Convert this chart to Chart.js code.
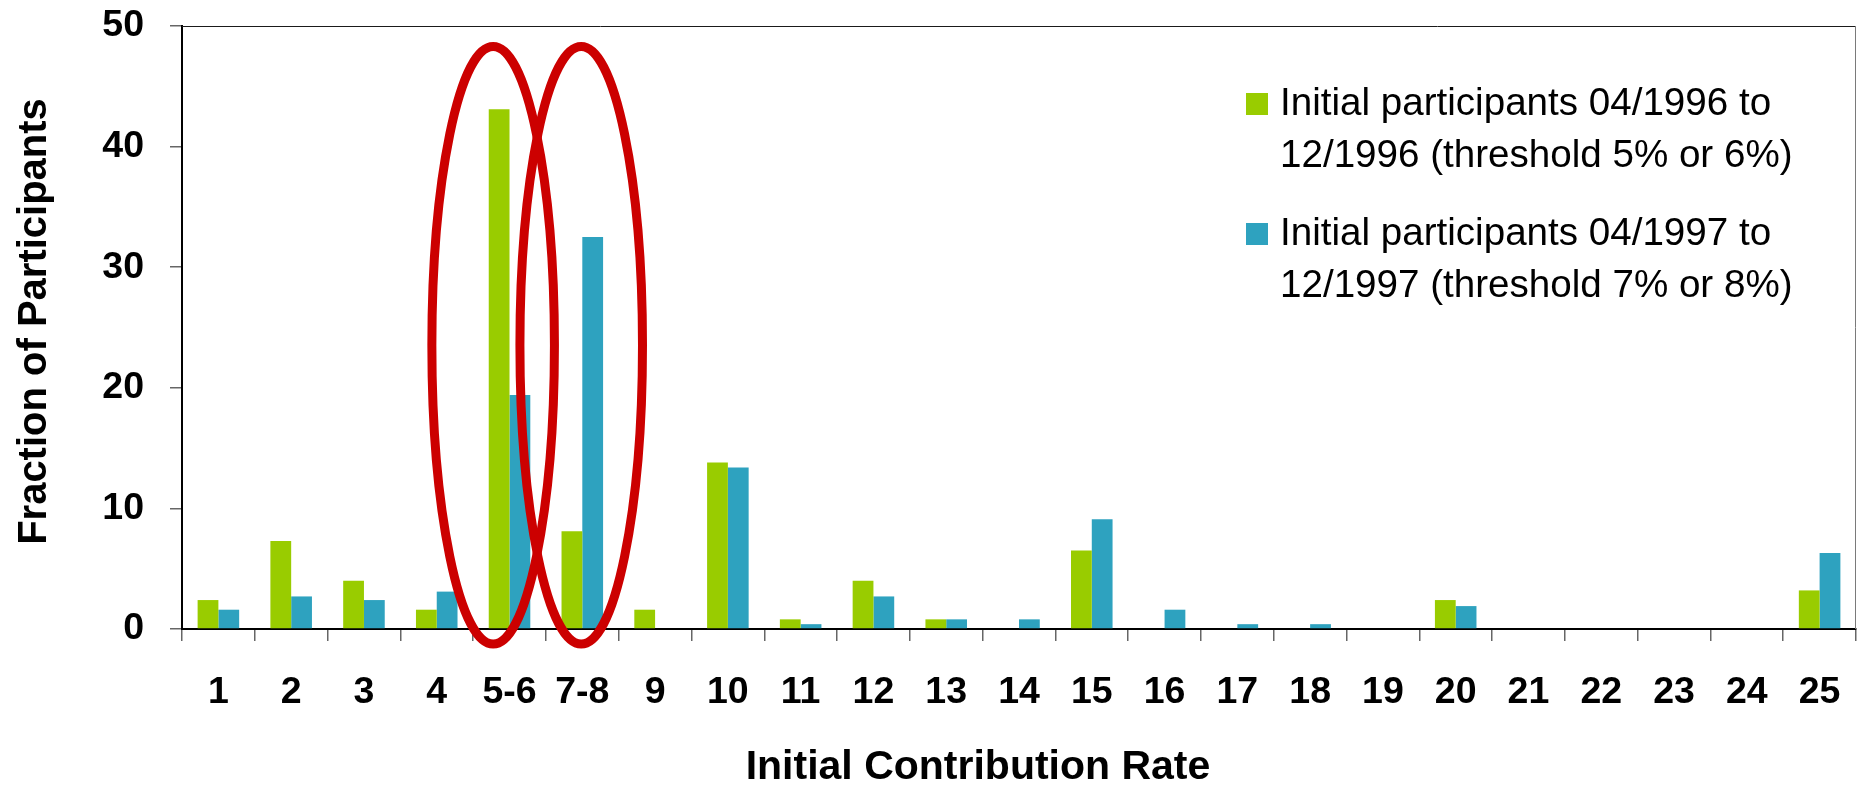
<!DOCTYPE html>
<html>
<head>
<meta charset="utf-8">
<script src="https://cdn.jsdelivr.net/npm/chart.js@4.4.1/dist/chart.umd.min.js"></script>
<style>
  html, body { margin: 0; padding: 0; background: #ffffff; }
  #wrap { width: 1862px; height: 785px; position: relative; }
</style>
</head>
<body>
<div id="wrap"><canvas id="chart" width="1862" height="785"></canvas></div>
<script>
// Initial contribution rate buckets (percent of pay)
const categories = ['1','2','3','4','5-6','7-8','9','10','11','12','13','14','15','16','17','18','19','20','21','22','23','24','25'];

// Share of new participants choosing each rate (%)
const cohort1996 = [2.4, 7.3, 4.0, 1.6, 43.1, 8.1, 1.6, 13.8, 0.8, 4.0, 0.8, 0, 6.5, 0, 0, 0, 0, 2.4, 0, 0, 0, 0, 3.2];
const cohort1997 = [1.6, 2.7, 2.4, 3.1, 19.4, 32.5, 0, 13.4, 0.4, 2.7, 0.8, 0.8, 9.1, 1.6, 0.4, 0.4, 0, 1.9, 0, 0, 0, 0, 6.3];

const seriesLabels = [
  ['Initial participants 04/1996 to', '12/1996 (threshold 5% or 6%)'],
  ['Initial participants 04/1997 to', '12/1997 (threshold 7% or 8%)']
];
const seriesColors = ['#99CC00', '#2EA2BF'];

const yTicks = [0, 10, 20, 30, 40, 50];
const xTitle = 'Initial Contribution Rate';
const yTitle = 'Fraction of Participants';

// Match thresholds circled on the chart
const highlighted = ['5-6', '7-8'];

const FONT = "'Liberation Sans', Arial, sans-serif";

// Rings around the match-threshold buckets, placed through the chart scales
const ringPlugin = {
  id: 'thresholdRings',
  afterDraw(chart, args, opts) {
    const { ctx, scales: { x, y } } = chart;
    const step = x.getPixelForValue(1) - x.getPixelForValue(0);
    ctx.save();
    ctx.strokeStyle = opts.color;
    ctx.lineWidth = opts.lineWidth;
    highlighted.forEach((label, i) => {
      const idx = categories.indexOf(label);
      const cx = x.getPixelForValue(idx) + opts.shift[i] * step;
      const top = y.getPixelForValue(opts.top);
      const bottom = y.getPixelForValue(opts.bottom);
      ctx.beginPath();
      ctx.ellipse(cx, (top + bottom) / 2, opts.halfWidth * step, (bottom - top) / 2, 0, 0, Math.PI * 2);
      ctx.stroke();
    });
    ctx.restore();
  }
};

// Frame, axis titles and the two-line legend
const decorPlugin = {
  id: 'decor',
  beforeDatasetsDraw(chart) {
    const { ctx, chartArea: a } = chart;
    ctx.save();
    ctx.lineWidth = 1;
    ctx.strokeStyle = '#1a1a1a';
    ctx.beginPath();
    ctx.moveTo(a.left, a.top + 0.5);
    ctx.lineTo(a.right, a.top + 0.5);
    ctx.stroke();
    ctx.strokeStyle = '#7a7a7a';
    ctx.beginPath();
    ctx.moveTo(a.right - 0.5, a.top);
    ctx.lineTo(a.right - 0.5, a.bottom);
    ctx.stroke();
    ctx.restore();
  },
  afterDraw(chart) {
    const { ctx, chartArea: a } = chart;
    ctx.save();
    ctx.fillStyle = '#000000';
    ctx.font = `bold 41px ${FONT}`;
    ctx.textAlign = 'center';
    ctx.textBaseline = 'alphabetic';
    ctx.fillText(xTitle, (a.left + a.right) / 2 - 41, 779);

    ctx.save();
    ctx.font = `bold 40px ${FONT}`;
    ctx.translate(46, (a.top + a.bottom) / 2 - 6);
    ctx.rotate(-Math.PI / 2);
    ctx.fillText(yTitle, 0, 0);
    ctx.restore();

    // legend
    ctx.font = `38.6px ${FONT}`;
    ctx.textAlign = 'left';
    const baseX = 1280, firstBase = 115, lineGap = 51.7, itemGap = 130;
    seriesLabels.forEach((lines, i) => {
      const b = firstBase + i * itemGap;
      ctx.fillStyle = seriesColors[i];
      ctx.fillRect(1246, b - 22, 22, 22);
      ctx.fillStyle = '#000000';
      lines.forEach((t, j) => ctx.fillText(t, baseX, b + j * lineGap));
    });
    ctx.restore();
  }
};

new Chart(document.getElementById('chart'), {
  type: 'bar',
  data: {
    labels: categories,
    datasets: [
      { label: seriesLabels[0].join(' '), data: cohort1996, backgroundColor: seriesColors[0], borderWidth: 0 },
      { label: seriesLabels[1].join(' '), data: cohort1997, backgroundColor: seriesColors[1], borderWidth: 0 }
    ]
  },
  options: {
    responsive: false,
    animation: false,
    devicePixelRatio: 1,
    categoryPercentage: 0.571,
    barPercentage: 1.0,
    layout: { padding: { top: 26, right: 6, bottom: 0, left: 0 } },
    plugins: {
      legend: { display: false },
      tooltip: { enabled: false },
      thresholdRings: { color: '#CC0000', lineWidth: 9, shift: [-0.225, -0.015], halfWidth: 0.842, top: 48.3, bottom: -1.25 }
    },
    scales: {
      x: {
        offset: true,
        grid: { display: true, drawOnChartArea: false, drawTicks: true, tickLength: 12, color: '#666666', lineWidth: 1.5, offset: true },
        border: { display: true, color: '#000000', width: 2 },
        ticks: { color: '#000000', font: { family: FONT, size: 37.5, weight: 'bold' }, padding: 29, autoSkip: false, maxRotation: 0 },
        afterFit(scale) {
          scale.height = 156;
          scale.paddingLeft = 0;
          scale.paddingRight = 0;
        }
      },
      y: {
        min: yTicks[0],
        max: yTicks[yTicks.length - 1],
        afterBuildTicks(scale) { scale.ticks = yTicks.map(v => ({ value: v })); },
        grid: { display: true, drawOnChartArea: false, drawTicks: true, tickLength: 12, color: '#666666', lineWidth: 1.5 },
        border: { display: true, color: '#000000', width: 2 },
        ticks: { color: '#000000', font: { family: FONT, size: 37.5, weight: 'bold' }, padding: 26 },
        afterFit(scale) {
          scale.width = 182;
          scale.paddingTop = 0;
          scale.paddingBottom = 0;
        }
      }
    }
  },
  plugins: [ringPlugin, decorPlugin]
});
</script>
</body>
</html>
